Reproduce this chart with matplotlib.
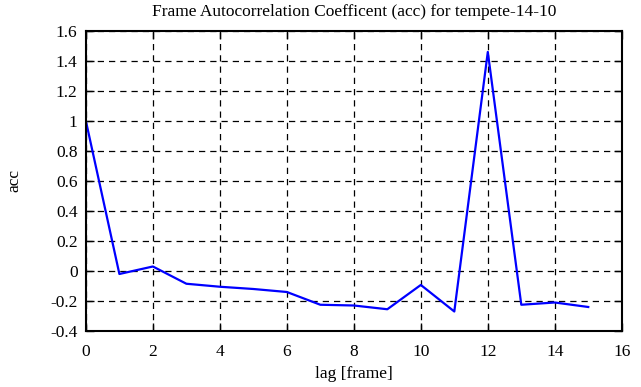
import numpy as np
import matplotlib.pyplot as plt

lag = [0, 1, 2, 3, 4, 5, 6, 7, 8, 9, 10, 11, 12, 13, 14, 15]
acc = [1.0, -0.02, 0.03, -0.085, -0.105, -0.12, -0.14, -0.225, -0.23, -0.255,
       -0.093, -0.27, 1.46, -0.225, -0.21, -0.24]

xticks = np.arange(0, 17, 2)
yticks = np.arange(-0.4, 1.61, 0.2)
ylabels = ["-0.4", "-0.2", "0", "0.2", "0.4", "0.6", "0.8", "1", "1.2", "1.4", "1.6"]

plt.rcParams['font.family'] = ['Liberation Serif', 'DejaVu Serif']
plt.rcParams['font.size'] = 12.5

fig = plt.figure(figsize=(6.41, 3.87), dpi=100)
ax = fig.add_axes([0.134, 0.1447, 0.836, 0.7753])
ax.plot(lag, acc, color='#0000ff', linewidth=1.6)

ax.set_xlim(0, 16)
ax.set_ylim(-0.4, 1.6)
ax.set_xticks(xticks)
ax.set_yticks(yticks)
ax.set_yticklabels(ylabels)
ax.tick_params(axis='x', pad=9)
ax.tick_params(direction='in', top=True, right=True, length=6, width=1)
ax.tick_params(axis='y', pad=6)
ax.grid(True, color='black', linestyle=(0, (5, 4)), linewidth=0.9)
for s in ax.spines.values():
    s.set_linewidth(1.5)

ax.set_title("Frame Autocorrelation Coefficent (acc) for tempete-14-10", fontsize=12.5, pad=11)
ax.set_xlabel("lag [frame]", labelpad=5)
ax.set_ylabel("acc", labelpad=20)

fig.savefig("out.png", dpi=100)
